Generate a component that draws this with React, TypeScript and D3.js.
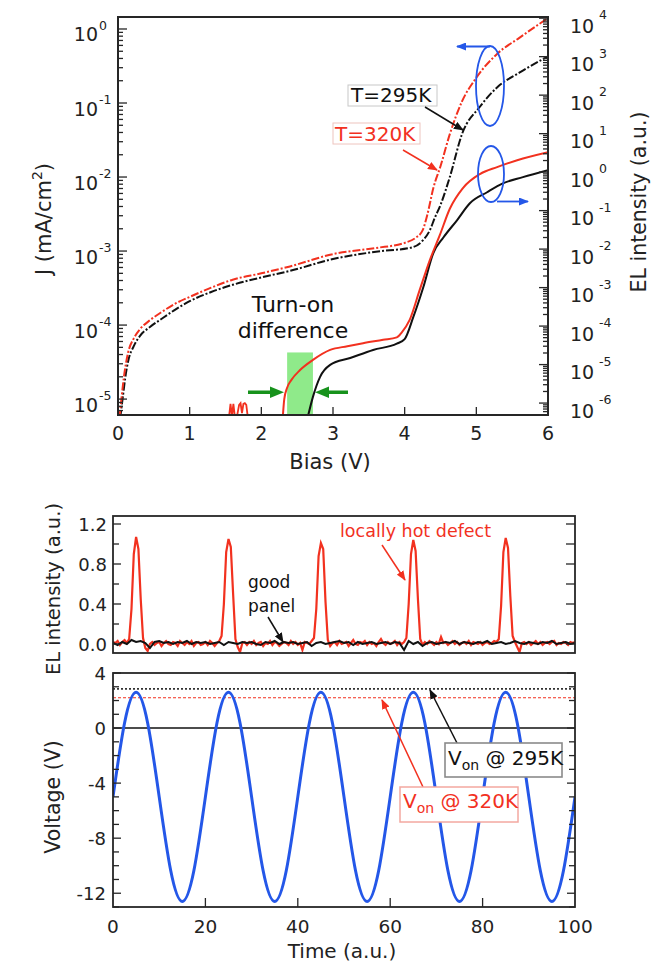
import React from "react";
import * as d3 from "d3";

const FONT = "'DejaVu Sans', Verdana, sans-serif";
const RED = "#f2311f";
const BLUE = "#2457e8";
const GREEN = "#17921c";

// ---------- Top panel: J (left log axis, dash-dot) ----------
const biasJ320 = [0.02, 0.05, 0.08, 0.14, 0.22, 0.31, 0.45, 0.6, 0.8, 1.0, 1.3, 1.6, 2.0, 2.4, 3.0, 3.6, 4.0, 4.15, 4.25, 4.32, 4.4, 4.5, 4.63, 4.8, 5.0, 5.3, 5.6, 6.0];
const j320 = [5.5e-6, 1.05e-5, 1.9e-5, 4.2e-5, 6.6e-5, 8.9e-5, 1.17e-4, 1.48e-4, 1.95e-4, 2.4e-4, 3.2e-4, 4.1e-4, 5.0e-4, 6.2e-4, 9.1e-4, 1.1e-3, 1.29e-3, 1.5e-3, 1.9e-3, 3.2e-3, 7.1e-3, 1.4e-2, 3.8e-2, 0.105, 0.22, 0.47, 0.76, 1.41];
const biasJ295 = [0.03, 0.07, 0.1, 0.14, 0.22, 0.31, 0.45, 0.6, 0.8, 1.0, 1.3, 1.6, 2.0, 2.4, 3.0, 3.6, 4.1, 4.25, 4.35, 4.42, 4.5, 4.63, 4.8, 5.05, 5.3, 5.6, 6.0];
const j295 = [5.5e-6, 1.12e-5, 1.9e-5, 3.2e-5, 5.2e-5, 7.2e-5, 9.5e-5, 1.2e-4, 1.62e-4, 2.1e-4, 2.8e-4, 3.5e-4, 4.4e-4, 5.4e-4, 7.8e-4, 9.8e-4, 1.12e-3, 1.38e-3, 1.9e-3, 2.8e-3, 4.2e-3, 1.0e-2, 3.8e-2, 8.9e-2, 0.166, 0.257, 0.427];

// ---------- Top panel: EL intensity (right log axis, solid) ----------
const biasEL320 = [2.3, 2.32, 2.36, 2.42, 2.54, 2.72, 2.96, 3.2, 3.42, 3.7, 3.89, 3.96, 4.07, 4.21, 4.35, 4.49, 4.63, 4.81, 5.05, 5.29, 5.57, 6.0];
const el320 = [4.5e-7, 1.26e-6, 2.5e-6, 4.0e-6, 7.2e-6, 1.32e-5, 2.4e-5, 3.0e-5, 3.6e-5, 4.4e-5, 5.1e-5, 6.9e-5, 1.45e-4, 8.7e-4, 5.1e-3, 2.3e-2, 0.112, 0.38, 0.89, 1.35, 2.04, 3.3];
const biasEL295 = [2.65, 2.72, 2.82, 2.96, 3.24, 3.56, 3.89, 4.0, 4.12, 4.26, 4.4, 4.54, 4.73, 4.91, 5.15, 5.37, 5.65, 6.0];
const el295 = [4.5e-7, 1.45e-6, 4.8e-6, 9.8e-6, 1.48e-5, 2.4e-5, 3.5e-5, 4.6e-5, 1.7e-4, 1.02e-3, 7.9e-3, 2.0e-2, 5.6e-2, 0.155, 0.3, 0.51, 0.74, 1.12];
const noiseBias320 = [1.52, 1.55, 1.57, 1.59, 1.61, 1.63, 1.66, 1.69, 1.71, 1.73, 1.75, 1.77, 1.79, 1.81, 1.84];
const noiseEL320 = [4.5e-7, 4.5e-7, 9.5e-7, 4.5e-7, 9.5e-7, 4.5e-7, 4.5e-7, 9.0e-7, 1.0e-6, 5.5e-7, 9.5e-7, 1.0e-6, 9.0e-7, 4.5e-7, 4.5e-7];

const biasTicks = [0, 1, 2, 3, 4, 5, 6];
const jDecades = [-5, -4, -3, -2, -1, 0];
const elDecades = [-6, -5, -4, -3, -2, -1, 0, 1, 2, 3, 4];
const turnOnBand = [2.36, 2.72];

// ---------- Bottom panels ----------
const hotTime = d3.range(0, 100.001, 0.5);
const hotEL = [
  0.02, 0.01, 0.03, -0.01, 0.02, 0.04, 0.01, 0.05, 0.35, 0.9,
  1.07, 0.95, 0.45, 0.06, -0.04, -0.07, 0.0, 0.02, -0.01, 0.01,
  0.02, -0.02, 0.01, 0.03, 0.0, -0.01, 0.02, 0.01, -0.02, 0.03,
  0.01, -0.01, 0.02, 0.0, 0.03, -0.02, 0.01, 0.02, -0.01, 0.0,
  0.02, -0.01, 0.03, 0.01, -0.02, 0.01, 0.03, 0.08, 0.4, 0.92,
  1.05, 0.97, 0.5, 0.05, -0.03, -0.08, 0.01, 0.02, -0.01, 0.02,
  0.0, 0.03, -0.01, 0.01, 0.02, -0.02, 0.01, 0.0, 0.03, -0.01,
  0.02, 0.01, -0.02, 0.0, 0.02, 0.01, -0.01, 0.03, 0.0, 0.02,
  -0.01, 0.01, -0.06, 0.02, 0.01, 0.0, 0.03, 0.06, 0.35, 0.88,
  1.01, 0.95, 0.42, 0.04, -0.02, 0.01, 0.02, -0.01, 0.03, 0.0,
  0.01, 0.02, -0.02, 0.01, 0.04, 0.0, -0.01, 0.02, 0.01, 0.03,
  -0.01, 0.02, 0.0, 0.01, -0.02, 0.02, 0.05, 0.01, -0.01, 0.02,
  0.0, 0.01, 0.03, -0.01, 0.02, 0.0, 0.02, 0.06, 0.4, 0.9,
  1.04, 0.93, 0.45, 0.05, -0.01, 0.02, 0.0, 0.03, 0.01, -0.01,
  0.02, 0.0, 0.07, 0.01, 0.02, -0.01, 0.01, 0.03, 0.0, 0.02,
  -0.01, 0.01, 0.02, 0.0, 0.03, -0.01, 0.02, 0.01, 0.0, 0.02,
  -0.01, 0.01, 0.02, 0.0, 0.01, 0.03, 0.02, 0.05, 0.38, 0.92,
  1.06, 0.96, 0.48, 0.08, 0.02, -0.03, -0.08, 0.01, 0.02, 0.0,
  0.02, -0.01, 0.01, 0.03, 0.0, 0.02, -0.01, 0.01, 0.02, 0.0,
  0.02, 0.03, -0.01, 0.01, 0.0, 0.02, 0.01, -0.01, 0.02, 0.01,
  0.02,
];
const goodTime = d3.range(0, 100.001, 1);
const goodEL = [
  0.01, -0.01, 0.02, 0.0, 0.04, 0.02, 0.03, 0.01, -0.04, 0.02,
  0.03, 0.01, 0.02, 0.0, 0.02, 0.01, 0.03, 0.0, 0.02, 0.01,
  0.02, 0.0, 0.01, 0.02, -0.01, 0.02, 0.01, 0.0, 0.02, 0.01,
  0.02, 0.0, -0.01, 0.02, 0.01, 0.03, 0.0, 0.02, 0.01, 0.02,
  0.0, 0.01, 0.02, -0.02, 0.01, 0.02, 0.0, 0.01, 0.02, 0.03,
  0.01, 0.02, -0.01, 0.02, 0.0, 0.01, 0.02, 0.0, 0.01, 0.02,
  0.0, 0.02, 0.01, -0.06, 0.03, 0.0, 0.02, -0.02, 0.01, 0.02,
  0.0, 0.01, 0.02, 0.01, 0.03, 0.0, 0.02, 0.01, 0.0, 0.02,
  0.01, 0.03, 0.0, 0.01, 0.02, 0.0, 0.01, 0.03, 0.01, 0.0,
  0.02, 0.01, 0.0, 0.02, 0.01, 0.03, 0.0, 0.01, 0.02, 0.0,
  0.01,
];
const elTicksMajor = [0, 0.4, 0.8, 1.2];
const elTicksAll = [0, 0.2, 0.4, 0.6, 0.8, 1.0, 1.2];

const sineTime = d3.range(0, 100.001, 2.5);
const voltage = [
  -5, 0.37, 2.6, 0.37, -5, -10.37, -12.6, -10.37,
  -5, 0.37, 2.6, 0.37, -5, -10.37, -12.6, -10.37,
  -5, 0.37, 2.6, 0.37, -5, -10.37, -12.6, -10.37,
  -5, 0.37, 2.6, 0.37, -5, -10.37, -12.6, -10.37,
  -5, 0.37, 2.6, 0.37, -5, -10.37, -12.6, -10.37,
  -5,
];
const voltTicksMajor = [4, 0, -4, -8, -12];
const voltTicksAll = d3.range(-13, 4.001, 1);
const timeTicks = [0, 20, 40, 60, 80, 100];
const vOn295 = 2.85;
const vOn320 = 2.2;

function logTickList(decades: number[], lo: number, hi: number) {
  const out: { v: number; major: boolean }[] = [];
  const ds = [decades[0] - 1, ...decades];
  ds.forEach((d) => {
    for (let k = 1; k < 10; k++) {
      const v = k * Math.pow(10, d);
      if (v >= lo * 0.999 && v <= hi * 1.001) out.push({ v, major: k === 1 });
    }
  });
  return out;
}

export default function App() {
  // top panel geometry
  const L = 118, R = 548, T = 17, B = 415;
  const x1 = d3.scaleLinear().domain([0, 6]).range([L, R]);
  const yJ = d3.scaleLog().domain([Math.pow(10, -5.215), Math.pow(10, 0.162)]).range([B, T]);
  const yEL = d3.scaleLog().domain([Math.pow(10, -6.31), Math.pow(10, 4.03)]).range([B, T]);

  const lineXY = (xs: number[], ys: number[], sx: any, sy: any, curve: any) =>
    d3
      .line<number>()
      .x((_, i) => sx(xs[i]))
      .y((d) => sy(d))
      .curve(curve)(ys) || "";

  const pJ320 = lineXY(biasJ320, j320, x1, yJ, d3.curveMonotoneX);
  const pJ295 = lineXY(biasJ295, j295, x1, yJ, d3.curveMonotoneX);
  const pEL320 = lineXY(biasEL320, el320, x1, yEL, d3.curveMonotoneX);
  const pEL295 = lineXY(biasEL295, el295, x1, yEL, d3.curveMonotoneX);
  const pNoise = lineXY(noiseBias320, noiseEL320, x1, yEL, d3.curveLinear);

  const jTicks = logTickList(jDecades, yJ.domain()[0], yJ.domain()[1]);
  const elTicks = logTickList(elDecades, yEL.domain()[0], yEL.domain()[1]);

  // bottom panels geometry
  const BL = 113, BR = 575;
  const ET = 516, EB = 653;
  const VT = 673, VB = 907;
  const xT = d3.scaleLinear().domain([0, 100]).range([BL, BR]);
  const yE = d3.scaleLinear().domain([-0.09, 1.28]).range([EB, ET]);
  const yV = d3.scaleLinear().domain([-13, 4]).range([VB, VT]);

  const pHot = lineXY(hotTime, hotEL, xT, yE, d3.curveLinear);
  const pGood = lineXY(goodTime, goodEL, xT, yE, d3.curveLinear);
  const pSine = lineXY(sineTime, voltage, xT, yV, d3.curveNatural);

  const frame = "#262626";
  const bandTop = yJ(Math.pow(10, -4.37));

  return (
    <svg
      width={659}
      height={964}
      viewBox="0 0 659 964"
      style={{ position: "absolute", left: 0, top: 0, background: "#fff" }}
      fontFamily={FONT}
    >
      <defs>
        <clipPath id="clipTop">
          <rect x={L} y={T} width={R - L} height={B - T} />
        </clipPath>
        <clipPath id="clipEL">
          <rect x={BL} y={ET} width={BR - BL} height={EB - ET} />
        </clipPath>
        <clipPath id="clipV">
          <rect x={BL} y={VT} width={BR - BL} height={VB - VT} />
        </clipPath>
        {[
          ["arrBlack", "#111"],
          ["arrRed", RED],
          ["arrBlue", BLUE],
        ].map(([id, c]) => (
          <marker
            key={id}
            id={id}
            markerUnits="userSpaceOnUse"
            markerWidth={10}
            markerHeight={8}
            refX={9}
            refY={4}
            orient="auto"
          >
            <path d="M0,0 L10,4 L0,8 Z" fill={c} />
          </marker>
        ))}
      </defs>

      {/* ================= TOP PANEL ================= */}
      <rect x={x1(turnOnBand[0])} y={bandTop} width={x1(turnOnBand[1]) - x1(turnOnBand[0])} height={B - bandTop} fill="#8fea8a" />

      <g clipPath="url(#clipTop)" fill="none">
        <path d={pJ295} stroke="#111" strokeWidth={2} strokeDasharray="8,2,2,2" />
        <path d={pJ320} stroke={RED} strokeWidth={2} strokeDasharray="8,2,2,2" />
        <path d={pEL295} stroke="#111" strokeWidth={2} />
        <path d={pEL320} stroke={RED} strokeWidth={2} />
        <path d={pNoise} stroke={RED} strokeWidth={1.8} />
      </g>

      {/* frame */}
      <rect x={L} y={T} width={R - L} height={B - T} fill="none" stroke={frame} strokeWidth={2} />

      {/* left log ticks */}
      {jTicks.map((t, i) => (
        <line key={"jl" + i} x1={L} x2={L + (t.major ? 9 : 5)} y1={yJ(t.v)} y2={yJ(t.v)} stroke={frame} strokeWidth={1.3} />
      ))}
      {jDecades.map((d) => (
        <g key={"jlab" + d} fill="#222">
          <text x={L - 20} y={yJ(Math.pow(10, d)) + 12.5} fontSize={19} textAnchor="end">10</text>
          <text x={L - 19} y={yJ(Math.pow(10, d)) + 1} fontSize={12.5}>{d}</text>
        </g>
      ))}
      {/* right log ticks */}
      {elTicks.map((t, i) => (
        <line key={"er" + i} x1={R} x2={R - (t.major ? 9 : 5)} y1={yEL(t.v)} y2={yEL(t.v)} stroke={frame} strokeWidth={1.3} />
      ))}
      {elDecades.map((d) => (
        <g key={"elab" + d} fill="#222">
          <text x={R + 22} y={yEL(Math.pow(10, d)) + 14.5} fontSize={19}>10</text>
          <text x={R + 51} y={yEL(Math.pow(10, d)) + 1} fontSize={12.5}>{d}</text>
        </g>
      ))}
      {/* bottom ticks */}
      {biasTicks.map((b) => (
        <g key={"bt" + b}>
          <line x1={x1(b)} x2={x1(b)} y1={B} y2={B - 8} stroke={frame} strokeWidth={1.3} />
          <text x={x1(b)} y={440} fontSize={19} textAnchor="middle" fill="#222">{b}</text>
        </g>
      ))}

      {/* axis titles */}
      <text x={330} y={469} fontSize={21} textAnchor="middle" fill="#222">Bias (V)</text>
      <text transform="translate(51,219) rotate(-90)" fontSize={21} textAnchor="middle" fill="#222">
        J (mA/cm<tspan dy={-9} fontSize={14}>2</tspan><tspan dy={9}>)</tspan>
      </text>
      <text transform="translate(646,202) rotate(-90)" fontSize={20.5} textAnchor="middle" fill="#222">EL intensity (a.u.)</text>

      {/* turn-on annotation */}
      <text x={293} y={312} fontSize={22} textAnchor="middle" fill="#111">Turn-on</text>
      <text x={293} y={338} fontSize={22} textAnchor="middle" fill="#111">difference</text>
      <g fill={GREEN} stroke="none">
        <rect x={248} y={390.5} width={24} height={3.5} />
        <path d="M270,386.5 L284,392.2 L270,398 Z" />
        <rect x={326} y={390.5} width={22} height={3.5} />
        <path d="M329,386.5 L315,392.2 L329,398 Z" />
      </g>

      {/* T labels */}
      <rect x={348} y={85} width={89} height={21} fill="#fff" stroke="#c8c8c8" strokeWidth={1} />
      <text x={351} y={102} fontSize={20} fill="#111">T=295K</text>
      <line x1={425} y1={107} x2={463} y2={130} stroke="#111" strokeWidth={1.5} markerEnd="url(#arrBlack)" />
      <rect x={333} y={123} width={87} height={21} fill="#fff" stroke="#eec4be" strokeWidth={1} />
      <text x={335} y={141} fontSize={20} fill={RED}>T=320K</text>
      <line x1={403} y1={150} x2={437} y2={170} stroke={RED} strokeWidth={1.5} markerEnd="url(#arrRed)" />

      {/* blue ellipses */}
      <ellipse cx={490} cy={86} rx={14} ry={40} fill="none" stroke={BLUE} strokeWidth={1.8} />
      <line x1={490} y1={46.5} x2={457} y2={46.5} stroke={BLUE} strokeWidth={1.8} markerEnd="url(#arrBlue)" />
      <ellipse cx={491} cy={174} rx={13} ry={28} fill="none" stroke={BLUE} strokeWidth={1.8} />
      <line x1={497} y1={201.5} x2={528} y2={201.5} stroke={BLUE} strokeWidth={1.8} markerEnd="url(#arrBlue)" />

      {/* ================= EL TIME PANEL ================= */}
      <g clipPath="url(#clipEL)" fill="none">
        <path d={pHot} stroke={RED} strokeWidth={2.2} />
        <path d={pGood} stroke="#111" strokeWidth={2} />
      </g>
      <rect x={BL} y={ET} width={BR - BL} height={EB - ET} fill="none" stroke={frame} strokeWidth={1.8} />
      {elTicksAll.map((v) => (
        <g key={"et" + v}>
          <line x1={BL} x2={BL + (elTicksMajor.includes(v) ? 8 : 6)} y1={yE(v)} y2={yE(v)} stroke={frame} strokeWidth={1.3} />
          <line x1={BR} x2={BR - 9} y1={yE(v)} y2={yE(v)} stroke={frame} strokeWidth={1.3} />
        </g>
      ))}
      {elTicksMajor.map((v) => (
        <text key={"etl" + v} x={107} y={yE(v) + 6.5} fontSize={18} textAnchor="end" fill="#222">{v.toFixed(1)}</text>
      ))}
      <text transform="translate(60,589) rotate(-90)" fontSize={19.5} textAnchor="middle" fill="#222">EL intensity (a.u.)</text>

      <text x={340} y={537} fontSize={17.5} fill={RED}>locally hot defect</text>
      <line x1={382} y1={545} x2={405} y2={580} stroke={RED} strokeWidth={1.5} markerEnd="url(#arrRed)" />
      <text x={248} y={588} fontSize={17} fill="#111">good</text>
      <text x={248} y={612} fontSize={17} fill="#111">panel</text>
      <line x1={268} y1={617} x2={283} y2={642} stroke="#111" strokeWidth={1.5} markerEnd="url(#arrBlack)" />

      {/* ================= VOLTAGE PANEL ================= */}
      <g clipPath="url(#clipV)" fill="none">
        <line x1={BL} x2={BR} y1={yV(0)} y2={yV(0)} stroke="#111" strokeWidth={1.5} />
        <line x1={BL} x2={BR} y1={yV(vOn295)} y2={yV(vOn295)} stroke="#333" strokeWidth={1.6} strokeDasharray="2,2" />
        <line x1={BL} x2={BR} y1={yV(vOn320)} y2={yV(vOn320)} stroke={RED} strokeWidth={1.1} strokeDasharray="3,2" />
        <path d={pSine} stroke={BLUE} strokeWidth={3} />
      </g>
      <rect x={BL} y={VT} width={BR - BL} height={VB - VT} fill="none" stroke={frame} strokeWidth={1.8} />
      {voltTicksAll.map((v) => (
        <g key={"vt" + v}>
          <line x1={BL} x2={BL + (voltTicksMajor.includes(v) ? 8 : 6)} y1={yV(v)} y2={yV(v)} stroke={frame} strokeWidth={1.3} />
          <line x1={BR} x2={BR - (voltTicksMajor.includes(v) ? 8 : 6)} y1={yV(v)} y2={yV(v)} stroke={frame} strokeWidth={1.3} />
        </g>
      ))}
      {voltTicksMajor.map((v) => (
        <text key={"vtl" + v} x={106} y={yV(v) + 7} fontSize={18} textAnchor="end" fill="#222">{v}</text>
      ))}
      {timeTicks.map((t) => (
        <g key={"tt" + t}>
          {t > 0 && t < 100 && <line x1={xT(t)} x2={xT(t)} y1={VB} y2={VB - 9} stroke={frame} strokeWidth={1.3} />}
          <text x={xT(t)} y={933} fontSize={18.5} textAnchor="middle" fill="#222">{t}</text>
        </g>
      ))}
      <text x={342} y={958} fontSize={20} textAnchor="middle" fill="#222">Time (a.u.)</text>
      <text transform="translate(60,797) rotate(-90)" fontSize={20.5} textAnchor="middle" fill="#222">Voltage (V)</text>

      {/* Von labels */}
      <line x1={457} y1={743} x2={430} y2={690} stroke="#111" strokeWidth={1.5} markerEnd="url(#arrBlack)" />
      <rect x={445} y={743} width={117} height={34} fill="#fff" stroke="#8a8a8a" strokeWidth={1.6} />
      <text x={448} y={765} fontSize={20} fill="#111">
        V<tspan dy={5} fontSize={14}>on</tspan><tspan dy={-5}> @ 295K</tspan>
      </text>
      <line x1={423} y1={787} x2={382} y2={700} stroke={RED} strokeWidth={1.5} markerEnd="url(#arrRed)" />
      <rect x={400} y={787} width={118} height={35} fill="#fff" stroke="#f3a8a0" strokeWidth={1.5} />
      <text x={403} y={808} fontSize={20} fill={RED}>
        V<tspan dy={5} fontSize={14}>on</tspan><tspan dy={-5}> @ 320K</tspan>
      </text>
    </svg>
  );
}
